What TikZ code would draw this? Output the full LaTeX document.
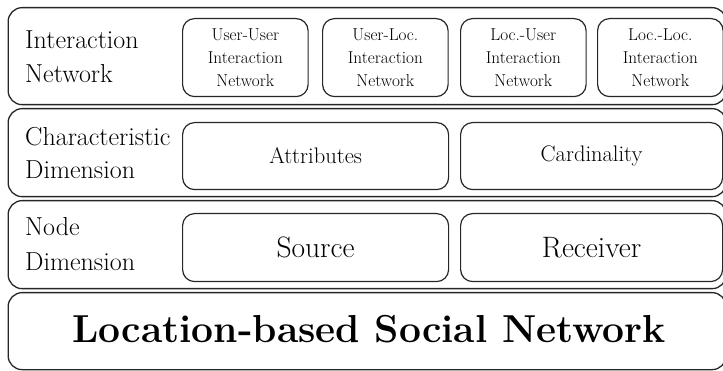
\documentclass[tikz,border=0pt]{standalone}
\usepackage{amsmath, amssymb}
\usepackage{xcolor}
\usepackage{tikz}

\begin{document}
\begin{tikzpicture}[x=1pt,y=-1pt,
	layer/.style={draw=black!85, line width=1.3pt, rounded corners=14pt, anchor=north west, inner sep=0pt},
	subbox/.style={draw=black!85, line width=1.2pt, rounded corners=12pt, anchor=north west, align=center, inner sep=0pt},
	lefttext/.style={anchor=north west, align=left, inner sep=0pt, font=\fontsize{26}{34}\selectfont}]

\useasboundingbox (0,0) rectangle (723,371);
\clip (0,0) rectangle (723,371);

\node[layer, minimum width=718pt, minimum height=97pt] (inet) at (7.5,7) {};
\node[layer, minimum width=718pt, minimum height=88pt] (cdim) at (7.5,108) {};
\node[layer, minimum width=718pt, minimum height=88pt] (ndim) at (7.5,200) {};
\node[layer, minimum width=718pt, minimum height=77pt] (lbsn) at (7.5,292) {};

\node[lefttext] (inetlab) at (25,30.5) {Interaction\\Network};
\node[lefttext, font=\fontsize{26}{33}\selectfont] (cdimlab) at (25,127.2) {Characteristic\\Dimension};
\node[lefttext, font=\fontsize{26}{35}\selectfont] (ndimlab) at (25,217.2) {Node\\Dimension};

\foreach \xa/\nm/\first in {182/uu/User-User, 322/ul/User-Loc., 460/lu/Loc.-User, 597/ll/Loc.-Loc.}{
	\node[subbox, minimum width=125.5pt, minimum height=78pt, font=\fontsize{17.2}{23}\selectfont] (\nm) at (\xa,18) {\first\\Interaction\\Network};
}

\node[subbox, minimum width=266pt, minimum height=67pt, font=\fontsize{22.5}{24}\selectfont] (attr) at (182,122) {Attributes};
\node[subbox, minimum width=262pt, minimum height=67pt, font=\fontsize{22.5}{24}\selectfont] (card) at (460,122) {Cardinality};

\node[subbox, minimum width=266pt, minimum height=68pt, font=\fontsize{29.5}{30}\selectfont] (src) at (182,213) {Source};
\node[subbox, minimum width=262pt, minimum height=68pt, font=\fontsize{29.5}{30}\selectfont] (rcv) at (460,213) {Receiver};

\node[anchor=base, inner sep=0pt, font=\fontsize{39}{40}\selectfont\bfseries] (lbsntext) at (369,343) {Location-based Social Network};

\end{tikzpicture}
\end{document}
